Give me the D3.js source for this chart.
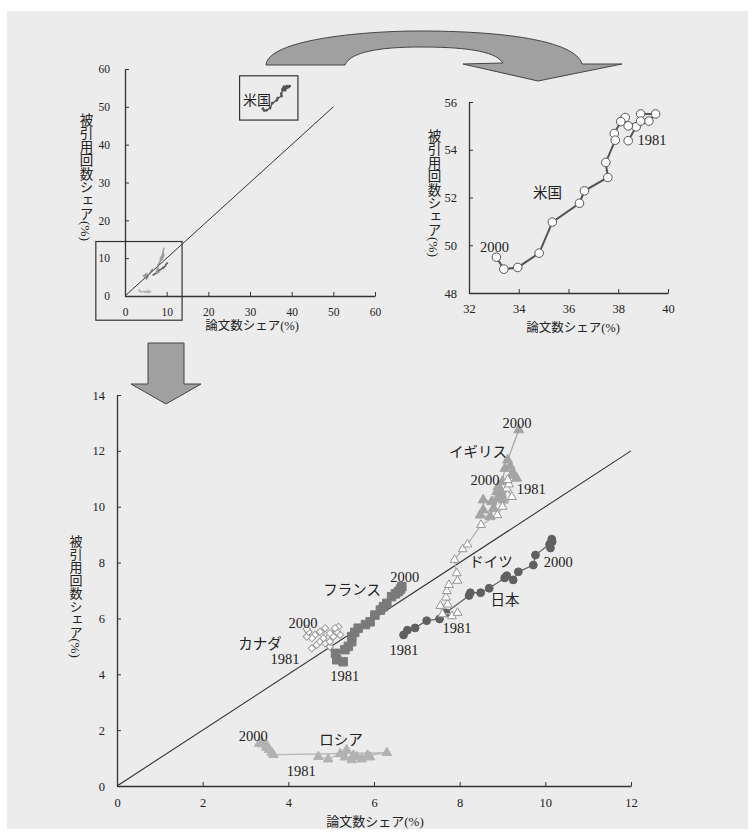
<!DOCTYPE html>
<html><head><meta charset="utf-8">
<script src="https://cdn.jsdelivr.net/npm/d3@7"></script>
<style>
body{margin:0;background:#fff;}
svg text{font-family:"Liberation Serif","Noto Sans CJK JP",serif;fill:#222;}
</style></head><body>
<svg id="chart" width="755" height="833"></svg>
<script>
// Share of papers (x, %) and share of citations (y, %), 1981 → 2000
const usPapers = [38.4, 38.72, 39.23, 39.5, 38.9, 38.9, 38.4, 38.28, 38.1, 37.84, 37.88, 37.5, 37.58, 36.64, 36.44, 35.35, 34.82, 33.96, 33.4, 33.1];
const usCites  = [54.38, 54.96, 55.2, 55.5, 55.5, 55.2, 55.0, 55.35, 55.18, 54.68, 54.4, 53.47, 52.84, 52.28, 51.76, 50.97, 49.67, 49.07, 49.0, 49.5];

const ukPapers = [9.33, 9.21, 9.02, 8.98, 8.9, 8.79, 8.71, 8.48, 8.55, 8.55, 8.75, 8.87, 8.9, 9.0, 8.95, 9.06, 9.25, 9.18, 9.12, 9.38];
const ukCites  = [11.02, 11.13, 10.24, 10.42, 10.3, 9.94, 9.64, 9.7, 9.88, 10.24, 10.18, 10.54, 10.72, 10.9, 10.6, 11.37, 11.2, 11.45, 11.67, 12.75];

const dePapers = [7.82, 7.95, 7.6, 7.55, 7.72, 7.68, 7.7, 7.75, 7.95, 7.93, 7.88, 8.07, 8.18, 8.5, 8.88, 9.0, 9.22, 9.1, 9.15, 9.12];
const deCites  = [6.08, 6.2, 6.15, 6.45, 6.5, 6.75, 6.98, 7.2, 7.35, 7.62, 8.1, 8.48, 8.65, 9.35, 9.7, 10.0, 10.35, 10.65, 10.8, 10.96];

const jpPapers = [6.69, 6.78, 6.96, 7.23, 7.53, 7.68, 8.22, 8.25, 8.49, 8.69, 9.05, 9.1, 9.25, 9.37, 9.72, 9.77, 10.1, 10.15, 10.16, 10.12];
const jpCites  = [5.41, 5.58, 5.66, 5.92, 5.98, 6.2, 6.82, 6.92, 6.92, 7.08, 7.45, 7.53, 7.38, 7.67, 7.91, 8.27, 8.66, 8.84, 8.75, 8.52];

const frPapers = [5.28, 5.13, 5.1, 5.32, 5.4, 5.48, 5.48, 5.55, 5.63, 5.8, 5.91, 6.02, 6.15, 6.22, 6.3, 6.41, 6.5, 6.57, 6.62, 6.65];
const frCites  = [4.45, 4.52, 4.75, 4.88, 5.0, 5.17, 5.35, 5.5, 5.65, 5.78, 5.88, 6.12, 6.3, 6.42, 6.54, 6.78, 6.88, 6.96, 7.05, 7.14];

const caPapers = [4.55, 4.66, 4.74, 4.86, 4.97, 4.97, 5.05, 5.21, 5.13, 5.17, 5.09, 4.97, 4.82, 4.86, 4.74, 4.62, 4.55, 4.43, 4.47, 4.43];
const caCites  = [4.93, 5.05, 5.17, 5.11, 4.99, 5.17, 5.35, 5.41, 5.52, 5.7, 5.65, 5.47, 5.29, 5.65, 5.52, 5.41, 5.29, 5.35, 5.52, 5.62];

const ruPapers = [4.7, 4.93, 5.21, 5.36, 5.32, 5.48, 5.6, 5.71, 5.91, 5.52, 5.85, 6.3, 3.65, 3.61, 3.55, 3.48, 3.5, 3.4, 3.38, 3.32];
const ruCites  = [1.05, 0.96, 1.15, 1.29, 1.03, 0.93, 1.05, 0.96, 1.03, 1.1, 1.1, 1.19, 1.12, 1.2, 1.3, 1.38, 1.45, 1.5, 1.58, 1.52];

// Axis ticks
const mainXTicks = [0, 2, 4, 6, 8, 10, 12];
const mainYTicks = [0, 2, 4, 6, 8, 10, 12, 14];
const overTicks  = [0, 10, 20, 30, 40, 50, 60];
const usXTicks   = [32, 34, 36, 38, 40];
const usYTicks   = [48, 50, 52, 54, 56];

const xTitle = "論文数シェア(%)";
const yTitle = "被引用回数シェア(%)";

const zip = (a, b) => a.map((v, i) => [v, b[i]]);
const countries = [
  {key: "ru", pts: zip(ruPapers, ruCites)},
  {key: "ca", pts: zip(caPapers, caCites)},
  {key: "fr", pts: zip(frPapers, frCites)},
  {key: "jp", pts: zip(jpPapers, jpCites)},
  {key: "uk", pts: zip(ukPapers, ukCites)},
  {key: "de", pts: zip(dePapers, deCites)}
];
const usPts = zip(usPapers, usCites);

const look = {
  ru: {line: "#bbbbbb", sym: d3.symbolTriangle, size: 40, fill: "#b2b2b2", stroke: "#b2b2b2", rot: 0},
  ca: {line: "#b5b5b5", sym: d3.symbolSquare, size: 26, fill: "#ffffff", stroke: "#9a9a9a", rot: 45},
  fr: {line: "#6e6e6e", sym: d3.symbolSquare, size: 72, fill: "#7a7a7a", stroke: "#7a7a7a", rot: 0},
  jp: {line: "#666666", sym: d3.symbolCircle, size: 48, fill: "#606060", stroke: "#606060", rot: 0},
  uk: {line: "#a8a8a8", sym: d3.symbolTriangle, size: 44, fill: "#a4a4a4", stroke: "#a4a4a4", rot: 0},
  de: {line: "#b0b0b0", sym: d3.symbolTriangle, size: 34, fill: "#ffffff", stroke: "#959595", rot: 0}
};

const svg = d3.select("#chart");
svg.append("rect").attr("x", 7).attr("y", 11).attr("width", 741).attr("height", 818).attr("fill", "#ececec");

function axes(g, x, y, xt, yt, fs, padX, padY) {
  const ax = g.append("g").attr("transform", `translate(0,${y.range()[0]})`)
    .call(d3.axisBottom(x).tickValues(xt).tickSizeInner(-4).tickSizeOuter(0).tickPadding(padX).tickFormat(d3.format("d")));
  const ay = g.append("g").attr("transform", `translate(${x.range()[0]},0)`)
    .call(d3.axisLeft(y).tickValues(yt).tickSizeInner(-4).tickSizeOuter(0).tickPadding(padY).tickFormat(d3.format("d")));
  [ax, ay].forEach(a => {
    a.select(".domain").attr("stroke", "#333").attr("stroke-width", 1.3);
    a.selectAll(".tick line").attr("stroke", "#333").attr("stroke-width", 1);
    a.selectAll("text").style("font-size", fs + "px");
  });
}

function vTitle(g, x, y, size) {
  g.append("text").attr("x", x).attr("y", y).attr("text-anchor", "middle")
    .style("writing-mode", "vertical-rl").style("text-orientation", "mixed")
    .style("font-size", size + "px").text(yTitle);
}
function hTitle(g, x, y, size) {
  g.append("text").attr("x", x).attr("y", y).attr("text-anchor", "middle")
    .attr("dominant-baseline", "central").style("font-size", size + "px").text(xTitle);
}
function label(g, x, y, t, size) {
  g.append("text").attr("x", x).attr("y", y).attr("text-anchor", "middle")
    .attr("dominant-baseline", "central").style("font-size", size + "px").text(t);
}

// ---------- Overview (0–60) ----------
{
  const g = svg.append("g");
  const x = d3.scaleLinear([0, 60], [125, 375]);
  const y = d3.scaleLinear([0, 60], [296, 69]);
  g.append("line").attr("x1", x(0)).attr("y1", y(0)).attr("x2", x(50)).attr("y2", y(50))
    .attr("stroke", "#333").attr("stroke-width", 1);
  const line = d3.line().x(d => x(d[0])).y(d => y(d[1]));
  countries.forEach(c => {
    const st = look[c.key];
    g.append("path").attr("d", line(c.pts)).attr("fill", "none")
      .attr("stroke", st.fill === "#ffffff" ? st.stroke : st.fill).attr("stroke-width", 1.6);
  });
  g.append("path").attr("d", line(usPts)).attr("fill", "none").attr("stroke", "#555").attr("stroke-width", 1.4);
  g.selectAll("circle.us").data(usPts).join("circle").attr("class", "us")
    .attr("cx", d => x(d[0])).attr("cy", d => y(d[1])).attr("r", 1.4).attr("fill", "#555");
  axes(g, x, y, overTicks, overTicks, 11.5, 12, 15);
  // frames around the enlarged regions
  g.append("rect").attr("x", x(27.5)).attr("y", y(58.2)).attr("width", x(41.5) - x(27.5)).attr("height", y(46.5) - y(58.2))
    .attr("fill", "none").attr("stroke", "#333").attr("stroke-width", 1.2);
  g.append("rect").attr("x", x(-7)).attr("y", y(14.4)).attr("width", x(13.7) - x(-7)).attr("height", y(-6.4) - y(14.4))
    .attr("fill", "none").attr("stroke", "#333").attr("stroke-width", 1.2);
  label(g, x(31.7), y(51.8), "米国", 14);
  hTitle(g, 252, 326, 12.5);
  vTitle(g, 85, 177, 13.5);
}

// ---------- United States close-up ----------
{
  const g = svg.append("g");
  const x = d3.scaleLinear([32, 40], [469, 668]);
  const y = d3.scaleLinear([48, 56], [293, 102]);
  const line = d3.line().x(d => x(d[0])).y(d => y(d[1]));
  g.append("path").attr("d", line(usPts)).attr("fill", "none").attr("stroke", "#555").attr("stroke-width", 2);
  g.selectAll("circle").data(usPts).join("circle")
    .attr("cx", d => x(d[0])).attr("cy", d => y(d[1])).attr("r", 4.3)
    .attr("fill", "#fff").attr("stroke", "#555").attr("stroke-width", 1);
  axes(g, x, y, usXTicks, usYTicks, 12.5, 11, 12);
  label(g, x(35.16), y(52.19), "米国", 14.5);
  label(g, x(39.36), y(54.41), "1981", 14.5);
  label(g, x(33.03), y(49.93), "2000", 14.5);
  hTitle(g, 573, 328, 12.5);
  vTitle(g, 433, 193, 13.5);
}

// ---------- Main panel (0–12) ----------
{
  const g = svg.append("g");
  const x = d3.scaleLinear([0, 12], [117, 631]);
  const y = d3.scaleLinear([0, 14], [786, 395]);
  g.append("line").attr("x1", x(0)).attr("y1", y(0)).attr("x2", x(12)).attr("y2", y(12))
    .attr("stroke", "#333").attr("stroke-width", 1.1);
  const line = d3.line().x(d => x(d[0])).y(d => y(d[1]));
  countries.forEach(c => {
    const st = look[c.key];
    const cg = g.append("g");
    cg.append("path").attr("d", line(c.pts)).attr("fill", "none").attr("stroke", st.line).attr("stroke-width", 1.3);
    const sym = d3.symbol().type(st.sym).size(st.size);
    cg.selectAll("path.m").data(c.pts).join("path").attr("class", "m")
      .attr("transform", d => `translate(${x(d[0])},${y(d[1])}) rotate(${st.rot})`)
      .attr("d", sym).attr("fill", st.fill).attr("stroke", st.stroke).attr("stroke-width", 1);
  });
  axes(g, x, y, mainXTicks, mainYTicks, 12.5, 12, 12);

  const notes = [
    ["イギリス", 8.43, 11.96], ["2000", 9.34, 13.0], ["1981", 9.67, 10.63],
    ["2000", 8.59, 10.96], ["ドイツ", 8.73, 8.02], ["1981", 7.94, 5.66],
    ["日本", 9.06, 6.66], ["2000", 10.3, 8.02], ["1981", 6.7, 4.87],
    ["フランス", 5.49, 7.02], ["2000", 6.72, 7.48], ["1981", 5.32, 3.94],
    ["カナダ", 3.34, 5.08], ["2000", 4.34, 5.84], ["1981", 3.92, 4.56],
    ["ロシア", 5.23, 1.65], ["2000", 3.18, 1.79], ["1981", 4.3, 0.54]
  ];
  notes.forEach(n => label(g, x(n[1]), y(n[2]), n[0], 14.5));
  hTitle(g, 375, 821, 13);
  vTitle(g, 75, 596, 13);
}

// ---------- Arrows ----------
svg.append("path")
  .attr("d", "M266,65 C268,40 360,31 420,31 C500,31 575,40 582,64 L622,64 L538,81 L463,64 L503,63 C495,50 460,47 420,47 C380,47 350,52 345,65 Z")
  .attr("fill", "#a0a0a0").attr("stroke", "#444").attr("stroke-width", 1);
svg.append("path")
  .attr("d", "M148,343 L184,343 L184,384 L201,384 L166,404 L131,384 L148,384 Z")
  .attr("fill", "#a0a0a0").attr("stroke", "#444").attr("stroke-width", 1);
</script></body></html>
